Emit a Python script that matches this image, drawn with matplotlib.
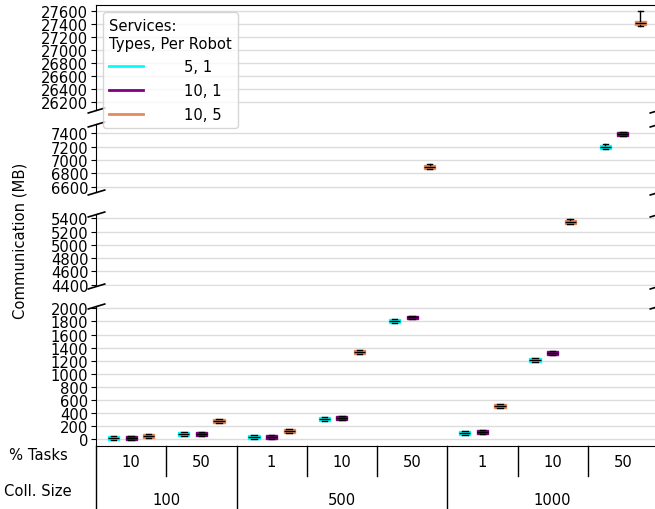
import numpy as np
import matplotlib
matplotlib.use("Agg")
import matplotlib.pyplot as plt
from matplotlib.lines import Line2D

# x layout: collection size -> % tasks
coll_sizes = ["100", "500", "1000"]
pct_tasks = [["10", "50"], ["1", "10", "50"], ["1", "10", "50"]]
services = ["5, 1", "10, 1", "10, 5"]
colors = ["#00ffff", "#800080", "#e8895c"]

# communication (MB), one row per service, one column per (size, %tasks) group
medians = np.array([
    [15, 76, 30, 305, 1800, 100, 1215, 7200],
    [15, 81, 30, 330, 1860, 113, 1322, 7390],
    [46, 284, 131, 1328, 6888, 504, 5350, 27425],
])
box_half = np.array([
    [28, 28, 28, 30, 30, 28, 30, 32],
    [28, 28, 28, 30, 30, 28, 30, 30],
    [28, 30, 28, 30, 30, 30, 30, 30],
])
whisk_lo = np.array([
    [28, 28, 28, 30, 30, 28, 30, 40],
    [28, 28, 28, 30, 30, 28, 30, 30],
    [28, 30, 28, 30, 30, 30, 30, 50],
])
whisk_hi = np.array([
    [28, 35, 28, 38, 30, 28, 30, 40],
    [28, 28, 28, 30, 30, 28, 30, 30],
    [28, 30, 28, 38, 45, 30, 38, 175],
])

# y ranges of the broken axis, top to bottom
ylims = [(26086, 27702), (6516, 7540), (4385, 5465), (-107, 2031)]
yticks = [np.arange(26200, 27601, 200), np.arange(6600, 7401, 200),
          np.arange(4400, 5401, 200), np.arange(0, 2001, 200)]

FS = 10.6
W, H = 655, 510
fig = plt.figure(figsize=(W/100, H/100), dpi=100)

left, right = 96, 658
panels_px = [(5.7, 110.7), (125, 193.3), (215, 286.7), (307.3, 447.3)]

ngroups = medians.shape[1]
offsets = [-0.25, 0.0, 0.25]

axes = []
for i, (top, bot) in enumerate(panels_px):
    ax = fig.add_axes([left/W, 1 - bot/H, (right-left)/W, (bot-top)/H])
    for s in range(len(services)):
        stats = []
        for g in range(ngroups):
            m = medians[s, g]
            stats.append(dict(med=m, q1=m-box_half[s, g], q3=m+box_half[s, g],
                              whislo=m-whisk_lo[s, g], whishi=m+whisk_hi[s, g],
                              fliers=[]))
        pos = np.arange(ngroups) + offsets[s]
        ax.bxp(stats, positions=pos, widths=0.16, capwidths=0.08,
               patch_artist=True, showfliers=False, manage_ticks=False,
               boxprops=dict(facecolor=colors[s], edgecolor=colors[s], lw=1),
               medianprops=dict(color="black", lw=1),
               whiskerprops=dict(color="black", lw=1),
               capprops=dict(color="black", lw=1))
    ax.set_xlim(-0.5, ngroups - 0.5)
    ax.set_ylim(*ylims[i])
    ax.set_yticks(yticks[i])
    ax.yaxis.grid(True, color="#dcdcdc", lw=1)
    ax.set_axisbelow(True)
    ax.tick_params(axis="x", bottom=False, labelbottom=False)
    ax.tick_params(axis="y", labelsize=FS, pad=2)
    if i > 0:
        ax.spines["top"].set_visible(False)
    if i < 3:
        ax.spines["bottom"].set_visible(False)
    # break marks
    kw = dict(marker=[(-1, -0.3), (1, 0.3)], markersize=13, linestyle="none",
              color="k", mec="k", mew=1.2, clip_on=False)
    if i > 0:
        ax.plot([0, 1], [1, 1], transform=ax.transAxes, **kw)
    if i < 3:
        ax.plot([0, 1], [0, 0], transform=ax.transAxes, **kw)
    axes.append(ax)

ax4 = axes[-1]
h4 = panels_px[3][1] - panels_px[3][0]
tr = ax4.get_xaxis_transform()

def yfrac(px):
    return -(px - panels_px[3][1]) / h4

# two-level x labels
row1_y, row1_end = 463, 477.3
row2_y, row2_end = 500.7, 512
g = 0
for k, size in enumerate(coll_sizes):
    start = g
    for j, pct in enumerate(pct_tasks[k]):
        ax4.text(g, yfrac(row1_y), pct, transform=tr, ha="center", va="center",
                 fontsize=FS)
        if j > 0:
            ax4.add_line(Line2D([g-0.5, g-0.5], [0, yfrac(row1_end)], transform=tr,
                                color="black", lw=1, clip_on=False))
        g += 1
    ax4.text((start + g - 1) / 2, yfrac(row2_y), size, transform=tr, ha="center",
             va="center", fontsize=FS)
    ax4.add_line(Line2D([start-0.5, start-0.5], [0, yfrac(row2_end)], transform=tr,
                        color="black", lw=1, clip_on=False))

fig.text(38/W, 1 - 456/H, "% Tasks", ha="center", va="center", fontsize=FS)
fig.text(38/W, 1 - 492/H, "Coll. Size", ha="center", va="center", fontsize=FS)
fig.text(20/W, 1 - 241/H, "Communication (MB)", rotation=90, ha="center",
         va="center", fontsize=FS)

handles = [Line2D([], [], color=c, lw=2) for c in colors]
leg = fig.legend(handles, services, title="Services:\nTypes, Per Robot",
                 loc="upper left", bbox_to_anchor=(103/W, 1 - 13.3/H),
                 borderaxespad=0, fontsize=FS, title_fontsize=FS,
                 handlelength=2.3, handletextpad=2.8, labelspacing=0.6,
                 alignment="left")

fig.savefig("out.png", dpi=100)
